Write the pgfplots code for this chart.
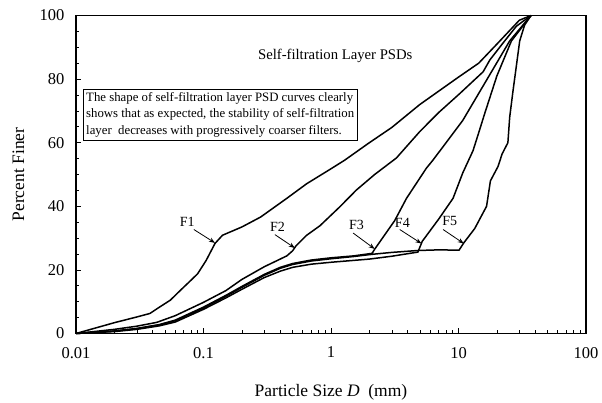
\documentclass[border=0pt]{standalone}
\usepackage{fontspec}
\setmainfont{Liberation Serif}
\usepackage{pgfplots}
\usepackage{pgfplotstable}
\pgfplotsset{compat=1.18}
\usetikzlibrary{arrows.meta}

% Particle size D (mm) vs percent finer
\pgfplotstableread{
D P
0.01 0
0.02 3.4
0.03 5.2
0.038 6.3
0.044 8
0.055 10.5
0.066 13.6
0.08 16.8
0.09 18.8
0.105 23
0.123 28.3
0.141 30.9
0.2 33.5
0.28 36.6
0.45 42.5
0.645 47.1
1 51.8
1.28 54.5
1.95 59.7
3 64.8
4.97 72
9.9 80.5
14.4 85
20 91
30 98.5
37 100
}\fone

\pgfplotstableread{
D P
0.01 0
0.02 1.3
0.03 2.3
0.043 3.5
0.06 5.6
0.1 9.8
0.15 13.5
0.2 17
0.3 21
0.45 24.4
0.5 26
0.53 27.5
0.64 30.8
0.82 33.9
1.17 39.8
1.58 45.1
2.2 50
3.26 55.2
4.97 63.5
7 69.5
10.2 75.4
15.6 82.3
17.6 86
22 91
28.4 96.6
37 100
}\ftwo

\pgfplotstableread{
D P
0.01 0
0.02 0.8
0.03 1.6
0.045 2.8
0.06 4.2
0.1 8.3
0.15 12
0.2 14.8
0.3 18.6
0.4 20.8
0.5 22
0.7 23.1
1 23.8
1.5 24.4
2.1 25.2
2.2 26.5
3.16 35.5
3.91 42.5
5.6 52
6.3 54.5
10.8 67
16.5 79.5
25.2 92
37 100
}\fthree

\pgfplotstableread{
D P
0.01 0
0.02 0.6
0.03 1.3
0.045 2.4
0.06 3.6
0.1 7.6
0.15 11.2
0.2 13.9
0.3 17.6
0.4 19.6
0.5 20.8
0.7 21.8
1 22.4
2 23.4
3 24.3
4.8 25.6
5.2 29
7 36
9.06 42.5
10.8 50.5
13 57.5
14.5 63.5
16 69
20 81
26 92
37 100
}\ffour

\pgfplotstableread{
D P
0.01 0
0.02 0.75
0.03 1.5
0.045 2.7
0.06 4.0
0.1 8.0
0.15 11.7
0.2 14.5
0.3 18.3
0.4 20.5
0.5 21.7
0.7 22.8
1 23.5
1.5 24.2
2.1 24.9
3 25.5
4.8 26.1
7 26.3
10.1 26.2
11 28.5
13.4 33
16.6 40
17.8 48
20.4 52.5
22 56.5
24.4 60
25.2 68
26.7 76
28.4 84
30.2 92
33 97
37 100
}\ffive

\begin{document}
\begin{tikzpicture}
\useasboundingbox (-76pt,-69.5pt) rectangle (526pt,333.5pt);
\begin{axis}[
    at={(0,0)}, anchor=south west,
    scale only axis, width=510pt, height=318pt,
    xmode=log, xmin=0.01, xmax=100, ymin=0, ymax=100,
    xtick={0.01,0.1,1,10,100}, xticklabels={0.01,0.1,1,10,100},
    ytick={0,20,...,100}, minor y tick num=3,
    tick pos=left, tick align=inside,
    major tick length=5pt, minor tick length=3pt,
    every tick/.style={black, line width=0.6pt},
    axis line style={line width=1.4pt},
    /pgf/number format/assume math mode=true,
    tick label style={font=\fontsize{16.5}{18}\selectfont},
    xticklabel style={yshift=-10pt},
    yticklabel style={xshift=-8pt},
    label style={font=\fontsize{17.5}{20}\selectfont},
    xlabel={Particle Size \textit{D}\ \ (mm)},
    ylabel={Percent Finer},
    xlabel style={at={(axis description cs:0.5,-0.184)}, anchor=center},
    ylabel style={at={(axis description cs:-0.113,0.5)}, anchor=center},
    clip=false,
]
\addplot[black, line width=1.5pt] table {\fone};
\addplot[black, line width=1.5pt] table {\ftwo};
\addplot[black, line width=1.5pt] table {\fthree};
\addplot[black, line width=1.5pt] table {\ffour};
\addplot[black, line width=1.5pt] table {\ffive};

\node[font=\fontsize{14.7}{17}\selectfont] at (axis cs:1.08,87.3) {Self-filtration Layer PSDs};
\node[draw, line width=0.9pt, anchor=north west, align=left, inner sep=3pt,
      font=\fontsize{12.8}{16.7}\selectfont] at (axis cs:0.0113,77)
  {The shape of self-filtration layer PSD curves clearly\\
   shows that as expected, the stability of self-filtration\\
   layer\ \ decreases with progressively coarser filters.};

\begin{scope}[font=\fontsize{14}{16}\selectfont]
\node at (axis cs:0.0745,35) {F1};
\node at (axis cs:0.38,33.6) {F2};
\node at (axis cs:1.585,34) {F3};
\node at (axis cs:3.63,34.8) {F4};
\node at (axis cs:8.53,35.3) {F5};
\end{scope}
\begin{scope}[-{Stealth[length=6pt,width=4.5pt]}, line width=0.8pt]
\draw (axis cs:0.084,32.7) -- (axis cs:0.123,28.5);
\draw (axis cs:0.363,31.1) -- (axis cs:0.52,26.9);
\draw (axis cs:1.49,31.6) -- (axis cs:2.2,26.6);
\draw (axis cs:3.46,32.7) -- (axis cs:5.12,28.3);
\draw (axis cs:7.57,32.7) -- (axis cs:11,28.3);
\end{scope}
\end{axis}
\end{tikzpicture}
\end{document}
